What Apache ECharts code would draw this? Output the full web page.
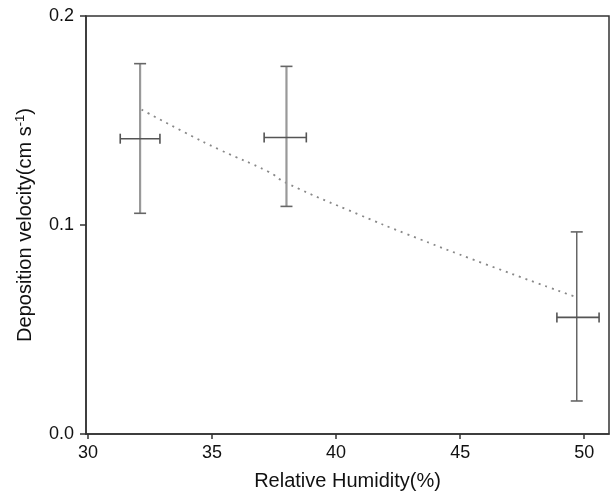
<!DOCTYPE html>
<html>
<head>
<meta charset="utf-8">
<script src="https://cdn.jsdelivr.net/npm/echarts@6/dist/echarts.min.js"></script>
<style>
  html, body { margin: 0; padding: 0; background: #fff; }
  #chart { width: 612px; height: 497px; }
</style>
</head>
<body>
<div id="chart"></div>
<script>
// measured points (relative humidity vs deposition velocity)
var humidity = [32.1, 38.0, 49.7];
var velocity = [0.1413, 0.1419, 0.0558];
var velLow = [0.1056, 0.1089, 0.0158];
var velHigh = [0.1772, 0.1759, 0.0967];
var humLow = [31.3, 37.1, 48.9];
var humHigh = [32.9, 38.8, 50.6];

// fitted trend line
var trendX = [32.16, 33.9, 35.31, 37.25, 38.0, 40.94, 42.82, 45.9, 49.7];
var trendY = [0.1552, 0.1443, 0.1360, 0.1256, 0.1201, 0.1049, 0.0958, 0.0818, 0.0654];

var xTicks = [30, 35, 40, 45, 50];

var errData = humidity.map(function (h, i) {
    return [h, velocity[i], velLow[i], velHigh[i], humLow[i], humHigh[i]];
});
var trendData = trendX.map(function (x, i) { return [x, trendY[i]]; });

var myChart = echarts.init(document.getElementById('chart'));

function renderErr(params, api) {
    var top = api.coord([api.value(0), api.value(3)]);
    var bot = api.coord([api.value(0), api.value(2)]);
    var left = api.coord([api.value(4), api.value(1)]);
    var right = api.coord([api.value(5), api.value(1)]);
    // last point's vertical bar is thinner and darker in the original
    var vColor = params.dataIndex === 2 ? '#666' : '#999';
    var vWidth = params.dataIndex === 2 ? 1.5 : 2.2;
    var cap = 6;
    var hs = { stroke: '#555', lineWidth: 1.6 };
    return {
        type: 'group',
        children: [
            { type: 'line', shape: { x1: top[0], y1: top[1], x2: bot[0], y2: bot[1] }, style: { stroke: vColor, lineWidth: vWidth } },
            { type: 'line', shape: { x1: top[0] - cap, y1: top[1], x2: top[0] + cap, y2: top[1] }, style: { stroke: '#666', lineWidth: 1.6 } },
            { type: 'line', shape: { x1: bot[0] - cap, y1: bot[1], x2: bot[0] + cap, y2: bot[1] }, style: { stroke: '#666', lineWidth: 1.6 } },
            { type: 'line', shape: { x1: left[0], y1: left[1], x2: right[0], y2: right[1] }, style: hs },
            { type: 'line', shape: { x1: left[0], y1: left[1] - 5, x2: left[0], y2: left[1] + 5 }, style: hs },
            { type: 'line', shape: { x1: right[0], y1: right[1] - 5, x2: right[0], y2: right[1] + 5 }, style: hs }
        ]
    };
}

myChart.setOption({
    animation: false,
    grid: {
        left: 86, right: 3, top: 16, bottom: 63,
        show: true, borderColor: '#333', borderWidth: 1.5, backgroundColor: 'transparent'
    },
    xAxis: {
        type: 'value',
        min: 29.92,
        max: 51,
        name: 'Relative Humidity(%)',
        nameLocation: 'middle',
        nameGap: 37,
        nameTextStyle: { fontFamily: 'Liberation Sans', fontSize: 20, color: '#111' },
        axisLine: { show: true, lineStyle: { color: '#333', width: 1.5 } },
        axisTick: { show: true, length: 5, customValues: xTicks, lineStyle: { color: '#333', width: 1.5 } },
        axisLabel: { customValues: xTicks, margin: 10, fontFamily: 'Liberation Sans', fontSize: 18, color: '#111' },
        splitLine: { show: false }
    },
    yAxis: {
        type: 'value',
        min: 0,
        max: 0.2,
        interval: 0.1,
        name: 'Deposition velocity(cm s{sup|-1})',
        nameLocation: 'middle',
        nameGap: 50,
        nameTextStyle: {
            fontFamily: 'Liberation Sans', fontSize: 20, color: '#111',
            rich: { sup: { fontFamily: 'Liberation Sans', fontSize: 13, color: '#111', verticalAlign: 'top', padding: [0, 0, 9, 0] } }
        },
        axisLine: { show: true, lineStyle: { color: '#333', width: 1.5 } },
        axisTick: { show: true, length: 6, lineStyle: { color: '#333', width: 1.5 } },
        axisLabel: {
            margin: 12, fontFamily: 'Liberation Sans', fontSize: 18, color: '#111',
            formatter: function (v) { return v.toFixed(1); }
        },
        splitLine: { show: false }
    },
    series: [
        {
            type: 'line',
            data: trendData,
            smooth: true,
            showSymbol: false,
            lineStyle: { color: '#888', width: 1.8, type: [2, 5] },
            z: 2
        },
        {
            type: 'custom',
            data: errData,
            renderItem: renderErr,
            encode: { x: [0, 4, 5], y: [1, 2, 3] },
            z: 3
        }
    ]
});
</script>
</body>
</html>
